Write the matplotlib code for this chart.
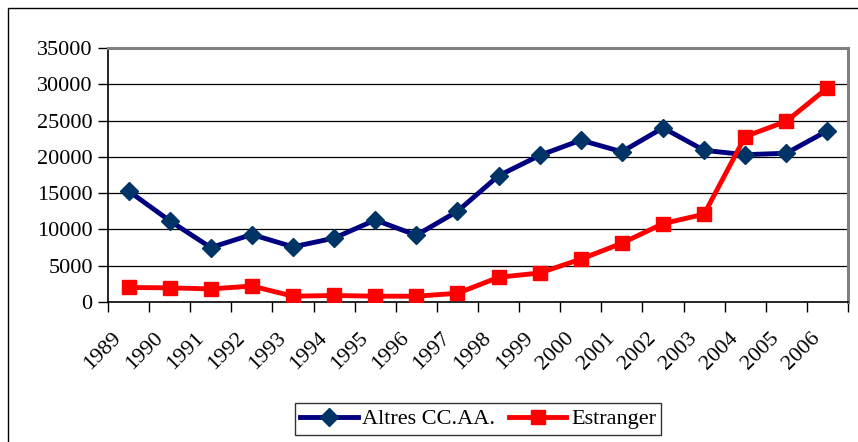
import matplotlib
matplotlib.use("Agg")
import matplotlib.pyplot as plt
from matplotlib.patches import Rectangle
from matplotlib.transforms import ScaledTranslation

plt.rcParams["font.family"] = ["Liberation Serif", "DejaVu Serif"]

years = [str(y) for y in range(1989, 2007)]
altres = [15300, 11200, 7500, 9300, 7600, 8800, 11300, 9200, 12500, 17400,
          20200, 22300, 20700, 24000, 20900, 20300, 20500, 23600]
estranger = [2000, 1950, 1800, 2200, 800, 900, 800, 800, 1200, 3400,
             4000, 5900, 8100, 10800, 12100, 22800, 24900, 29500]

W, H = 858, 442
fig = plt.figure(figsize=(W / 100, H / 100), dpi=100)
# plot area in pixels: left 108, right 848, top 48, bottom 302
ax = fig.add_axes([108 / W, 1 - 302 / H, 740 / W, 254 / H])

# outer chart frame (runs off the right/bottom of the image)
fig.patches.append(Rectangle((8 / W, -0.1), 1.2, 1 - 8 / H + 0.1, transform=fig.transFigure,
                             fill=False, edgecolor="black", linewidth=1.0))

x = list(range(len(years)))
ax.plot(x, altres, color="#000080", linewidth=3.5, marker="D", markersize=9,
        markerfacecolor="#003366", markeredgecolor="#003366", label="Altres CC.AA.", zorder=3)
ax.plot(x, estranger, color="#ff0000", linewidth=3.5, marker="s", markersize=10.5,
        markerfacecolor="#ff0000", markeredgecolor="#ff0000", label="Estranger", zorder=3)

ax.set_xlim(-0.5, len(years) - 0.5)
ax.set_ylim(0, 35000)
ax.set_yticks(range(0, 35001, 5000))
ax.tick_params(axis="y", labelsize=16, length=7, width=1, direction="out", pad=4)
for yv in range(5000, 35000, 5000):
    ax.axhline(yv, color="black", linewidth=0.9, zorder=1)

# category ticks sit between categories, labels at centres
ax.set_xticks([i - 0.5 for i in range(len(years) + 1)])
ax.set_xticklabels([])
ax.tick_params(axis="x", length=7, width=1, direction="out")
off = ScaledTranslation(-7 / 72, -24 / 72, fig.dpi_scale_trans)
for i, lab in enumerate(years):
    ax.text(i, 0, lab, rotation=45, ha="right", va="center", rotation_mode="anchor",
            fontsize=16, transform=ax.get_xaxis_transform() + off)

for side in ("top", "right"):
    ax.spines[side].set_color("#808080")
    ax.spines[side].set_linewidth(2.2)
for side in ("left", "bottom"):
    ax.spines[side].set_color("black")
    ax.spines[side].set_linewidth(1.2)

leg = fig.legend(loc="center", bbox_to_anchor=(478 / W, 1 - 419 / H), ncol=2,
                 fontsize=16, frameon=True, fancybox=False, handlelength=2.6,
                 handletextpad=0.2, columnspacing=0.6, borderpad=0.25, borderaxespad=0)
leg.get_frame().set_edgecolor("black")
leg.get_frame().set_linewidth(1.0)

fig.savefig("out.png", dpi=100)
